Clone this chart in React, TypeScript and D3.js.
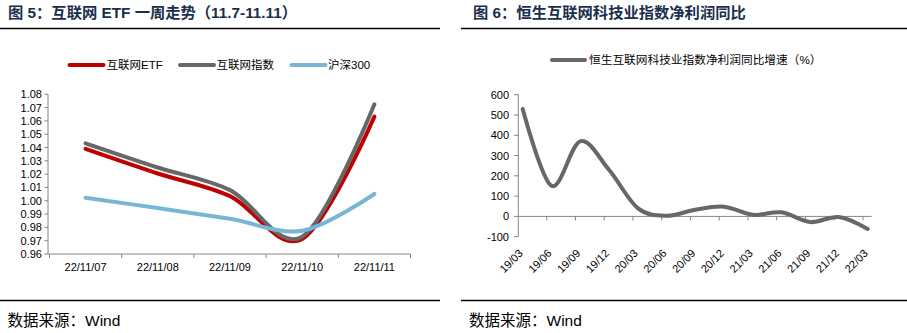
import React from "react";
import * as d3 from "d3";

const dates1 = ["22/11/07", "22/11/08", "22/11/09", "22/11/10", "22/11/11"];
const etf = [1.039, 1.0205, 1.0035, 0.9713, 1.0632];
const idx = [1.0432, 1.025, 1.008, 0.973, 1.0725];
const hs300 = [1.0022, 0.9945, 0.9865, 0.9775, 1.0051];
const yTicks1 = [0.96, 0.97, 0.98, 0.99, 1.0, 1.01, 1.02, 1.03, 1.04, 1.05, 1.06, 1.07, 1.08];

const quarters = ["19/03", "19/06", "19/09", "19/12", "20/03", "20/06", "20/09", "20/12", "21/03", "21/06", "21/09", "21/12", "22/03"];
const profitYoY = [530, 151, 370, 230, 41, 3, 33, 48, 8, 20, -28, -3, -62];
const yTicks2 = [-100, 0, 100, 200, 300, 400, 500, 600];

const CN = "'Liberation Sans', 'Noto Sans CJK SC', sans-serif";
const NUM = "'Liberation Sans', Arial, sans-serif";
const AX = "#868686";
const TITLE = "#1b2f4d";

export default function App() {
  // Chart 1
  const x1 = d3.scaleBand<string>().domain(dates1).range([49.5, 410.5]);
  const y1 = d3.scaleLinear().domain([0.96, 1.08]).range([254, 94.3]);
  const line1 = d3
    .line<number>()
    .x((_, i) => (x1(dates1[i]) as number) + x1.bandwidth() / 2)
    .y((d) => y1(d))
    .curve(d3.curveCardinal.tension(0));
  const series1 = [
    { name: "互联网ETF", data: etf, color: "#c00000", lx: 69.5, tx: 106.5 },
    { name: "互联网指数", data: idx, color: "#676767", lx: 180, tx: 216.5 },
    { name: "沪深300", data: hs300, color: "#77b7d3", lx: 291.5, tx: 328 },
  ];

  // Chart 2
  const x2 = d3.scalePoint<string>().domain(quarters).range([522.7, 867.7]);
  const y2 = d3.scaleLinear().domain([-100, 600]).range([236.7, 94.7]);
  const line2 = d3
    .line<number>()
    .x((_, i) => x2(quarters[i]) as number)
    .y((d) => y2(d))
    .curve(d3.curveCardinal.tension(0));

  return (
    <svg width={907} height={333} style={{ position: "absolute", left: 0, top: 0, background: "#fff" }}>
      <rect x={0} y={0} width={907} height={333} fill="#fff" />
      {/* Titles */}
      <text x={8} y={18} fontFamily={CN} fontWeight="bold" fontSize={15.3} fill={TITLE}>
        图 5：互联网 ETF 一周走势（11.7-11.11）
      </text>
      <line x1={0} x2={440} y1={28.5} y2={28.5} stroke="#000" strokeWidth={1.3} />
      <text x={473} y={18} fontFamily={CN} fontWeight="bold" fontSize={15.3} fill={TITLE}>
        图 6：恒生互联网科技业指数净利润同比
      </text>
      <line x1={461} x2={907} y1={28.5} y2={28.5} stroke="#000" strokeWidth={1.3} />

      {/* Chart 1 legend */}
      {series1.map((s) => (
        <g key={s.name}>
          <line x1={s.lx} x2={s.lx + 34} y1={65} y2={65} stroke={s.color} strokeWidth={4} strokeLinecap="round" />
          <text x={s.tx} y={69} fontFamily={CN} fontSize={11.5} fill="#000">
            {s.name}
          </text>
        </g>
      ))}

      {/* Chart 1 axes */}
      <line x1={48} x2={48} y1={94.3} y2={254} stroke={AX} />
      {yTicks1.map((t) => (
        <g key={t}>
          <line x1={44.5} x2={48} y1={y1(t)} y2={y1(t)} stroke={AX} />
          <text x={42} y={y1(t) + 4} textAnchor="end" fontFamily={NUM} fontSize={11} fill="#000">
            {t.toFixed(2)}
          </text>
        </g>
      ))}
      <line x1={48} x2={410.5} y1={254} y2={254} stroke={AX} />
      {dates1.map((d, i) => (
        <g key={d}>
          <line x1={x1(d)} x2={x1(d)} y1={254} y2={258} stroke={AX} />
          {i === dates1.length - 1 && (
            <line x1={(x1(d) as number) + x1.bandwidth()} x2={(x1(d) as number) + x1.bandwidth()} y1={254} y2={258} stroke={AX} />
          )}
          <text x={(x1(d) as number) + x1.bandwidth() / 2} y={271} textAnchor="middle" fontFamily={NUM} fontSize={11} fill="#000">
            {d}
          </text>
        </g>
      ))}
      {series1.map((s) => (
        <path key={s.name} d={line1(s.data) || ""} fill="none" stroke={s.color} strokeWidth={4} strokeLinecap="round" strokeLinejoin="round" />
      ))}

      {/* Chart 2 legend */}
      <line x1={552} x2={585} y1={60} y2={60} stroke="#676767" strokeWidth={4} strokeLinecap="round" />
      <text x={589} y={64} fontFamily={CN} fontSize={11.7} fill="#000">
        恒生互联网科技业指数净利润同比增速（%）
      </text>

      {/* Chart 2 axes */}
      <line x1={518.3} x2={518.3} y1={94.7} y2={236.7} stroke={AX} />
      {yTicks2.map((t) => (
        <g key={t}>
          <line x1={514} x2={518.3} y1={y2(t)} y2={y2(t)} stroke={AX} />
          <text x={509} y={y2(t) + 4} textAnchor="end" fontFamily={NUM} fontSize={11} fill="#000">
            {t}
          </text>
        </g>
      ))}
      <line x1={518.3} x2={871.7} y1={y2(0)} y2={y2(0)} stroke={AX} />
      {quarters.map((q, i) => (
        <g key={q}>
          {i < quarters.length - 1 && (
            <line x1={(x2(q) as number) + 24} x2={(x2(q) as number) + 24} y1={y2(0)} y2={y2(0) + 4} stroke={AX} />
          )}
          <text
            transform={`translate(${(x2(q) as number) + 1},${254}) rotate(-45)`}
            textAnchor="end"
            fontFamily={NUM}
            fontSize={11}
            fill="#000"
          >
            {q}
          </text>
        </g>
      ))}
      <path d={line2(profitYoY) || ""} fill="none" stroke="#676767" strokeWidth={4} strokeLinecap="round" strokeLinejoin="round" />

      {/* Bottom source lines */}
      <line x1={0} x2={440} y1={300.5} y2={300.5} stroke="#000" strokeWidth={1.3} />
      <line x1={461} x2={907} y1={300.5} y2={300.5} stroke="#000" strokeWidth={1.3} />
      <text x={7.5} y={326} fontFamily={CN} fontSize={15.5} fill="#000">
        数据来源：Wind
      </text>
      <text x={469} y={326} fontFamily={CN} fontSize={15.5} fill="#000">
        数据来源：Wind
      </text>
    </svg>
  );
}
